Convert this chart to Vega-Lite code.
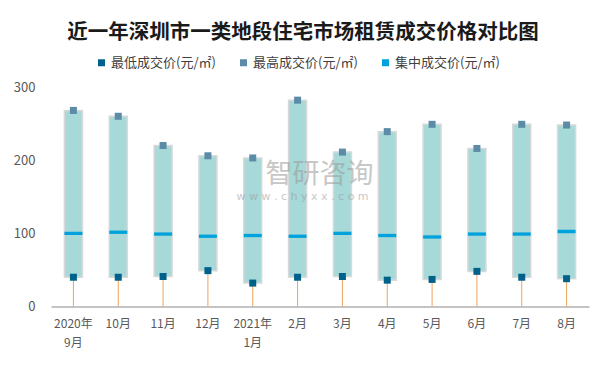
{
  "$schema": "https://vega.github.io/schema/vega-lite/v6.json",
  "autosize": "none",
  "width": 538,
  "height": 219.5,
  "padding": {"left": 51, "top": 87, "right": 15, "bottom": 62.5},
  "background": "white",
  "config": {"view": {"stroke": null}, "font": "Noto Sans CJK SC"},
  "title": {
    "text": "近一年深圳市一类地段住宅市场租赁成交价格对比图",
    "font": "Noto Sans CJK SC",
    "fontSize": 20.5,
    "fontWeight": "bold",
    "color": "#1a1a1a",
    "anchor": "middle",
    "frame": "group",
    "dx": -17,
    "offset": 13
  },
  "data": {
    "values": [
      {"month": "2020年9月", "low": 40, "high": 268, "mid": 100},
      {"month": "10月", "low": 40, "high": 260, "mid": 101.5},
      {"month": "11月", "low": 41, "high": 220, "mid": 99},
      {"month": "12月", "low": 49, "high": 206, "mid": 96},
      {"month": "2021年1月", "low": 32, "high": 203, "mid": 97},
      {"month": "2月", "low": 40, "high": 282, "mid": 96},
      {"month": "3月", "low": 41, "high": 211, "mid": 100},
      {"month": "4月", "low": 36, "high": 239, "mid": 97},
      {"month": "5月", "low": 37, "high": 249, "mid": 95},
      {"month": "6月", "low": 48, "high": 216, "mid": 99},
      {"month": "7月", "low": 40, "high": 249, "mid": 99},
      {"month": "8月", "low": 38, "high": 248, "mid": 102.5}
    ]
  },
  "encoding": {
    "x": {
      "field": "month",
      "type": "nominal",
      "sort": null,
      "scale": {"paddingInner": 0, "paddingOuter": 0},
      "axis": {
        "title": null,
        "labelAngle": 0,
        "domain": true,
        "domainColor": "#898989",
        "domainWidth": 1,
        "ticks": false,
        "labelFont": "Noto Sans CJK SC",
        "labelFontSize": 12,
        "labelColor": "#595959",
        "labelPadding": 12,
        "labelLineHeight": 19,
        "labelExpr": "datum.value == '2020年9月' ? ['2020年', '9月'] : datum.value == '2021年1月' ? ['2021年', '1月'] : datum.value"
      }
    }
  },
  "layer": [
    {
      "mark": {"type": "rule", "color": "#f0a35e", "strokeWidth": 1},
      "encoding": {
        "y": {"field": "low", "type": "quantitative"},
        "y2": {"datum": 0}
      }
    },
    {
      "mark": {"type": "bar", "size": 18, "fill": "#a6d9d8", "stroke": "#d9d9d9", "strokeWidth": 1.5},
      "encoding": {
        "y": {
          "field": "low",
          "type": "quantitative",
          "scale": {"domain": [0, 300], "nice": false},
          "axis": {
            "title": null,
            "values": [0, 50, 100, 150, 200, 250, 300],
            "domain": false,
            "ticks": false,
            "grid": false,
            "labelFont": "Noto Sans CJK SC",
            "labelFontSize": 13,
            "labelColor": "#595959",
            "labelPadding": 16
          }
        },
        "y2": {"field": "high"}
      }
    },
    {
      "data": {"values": [{"month": "2月", "wm": "智研咨询", "v": 180}]},
      "mark": {"type": "text", "fontSize": 27, "color": "#9a9a9a", "opacity": 0.55, "dx": 22, "font": "Noto Sans CJK SC"},
      "encoding": {"y": {"field": "v", "type": "quantitative"}, "text": {"field": "wm", "type": "nominal"}}
    },
    {
      "data": {"values": [{"month": "2月", "wm": "w w w . c h y x x . c o m", "v": 150}]},
      "mark": {"type": "text", "fontSize": 11, "color": "#9a9a9a", "opacity": 0.55, "dx": 5, "font": "DejaVu Sans"},
      "encoding": {"y": {"field": "v", "type": "quantitative"}, "text": {"field": "wm", "type": "nominal"}}
    },
    {
      "mark": {"type": "tick", "size": 18, "thickness": 3.3, "opacity": 1},
      "encoding": {
        "y": {"field": "mid", "type": "quantitative"},
        "color": {
          "datum": "集中成交价(元/㎡)",
          "type": "nominal",
          "scale": {
            "domain": ["最低成交价(元/㎡)", "最高成交价(元/㎡)", "集中成交价(元/㎡)"],
            "range": ["#00628a", "#5b8ba7", "#00a2de"]
          },
          "legend": {
            "title": null,
            "orient": "none",
            "direction": "horizontal",
            "legendX": 44,
            "legendY": -31,
            "symbolType": "square",
            "symbolSize": 49,
            "labelFont": "Noto Sans CJK SC",
            "labelFontSize": 13,
            "labelColor": "#404040",
            "labelOffset": 3,
            "columnPadding": 21,
            "encode": {
              "symbols": {
                "update": {
                  "shape": {"signal": "datum.value == '集中成交价(元/㎡)' ? 'M-1,-0.22L1,-0.22L1,0.22L-1,0.22Z' : 'square'"},
                  "fill": {"scale": "color", "field": "value"},
                  "stroke": {"value": "transparent"},
                  "opacity": {"value": 1}
                }
              }
            }
          }
        }
      }
    },
    {
      "mark": {"type": "point", "shape": "square", "filled": true, "size": 49, "opacity": 1},
      "encoding": {
        "y": {"field": "low", "type": "quantitative"},
        "color": {"datum": "最低成交价(元/㎡)", "type": "nominal"}
      }
    },
    {
      "mark": {"type": "point", "shape": "square", "filled": true, "size": 49, "opacity": 1},
      "encoding": {
        "y": {"field": "high", "type": "quantitative"},
        "color": {"datum": "最高成交价(元/㎡)", "type": "nominal"}
      }
    }
  ]
}
